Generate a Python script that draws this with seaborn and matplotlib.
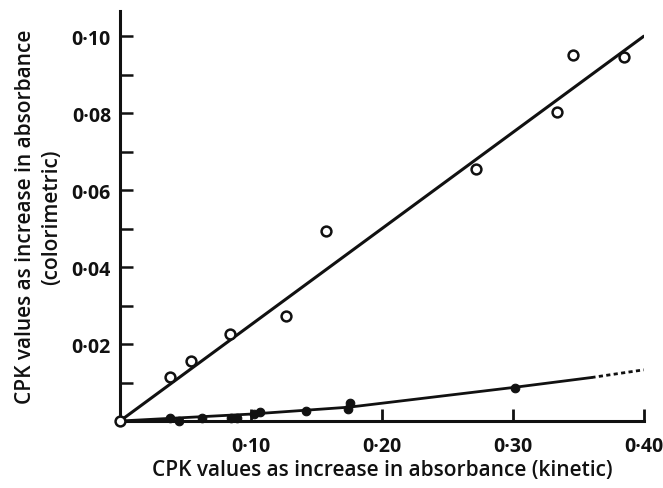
import matplotlib
matplotlib.use("Agg")
import matplotlib.pyplot as plt
import seaborn as sns
from matplotlib.ticker import FixedLocator, MultipleLocator

# Open circles: colorimetric vs kinetic
open_x = [0.0, 0.038, 0.054, 0.084, 0.127, 0.157, 0.272, 0.334, 0.346, 0.385]
open_y = [0.0, 0.0114, 0.0156, 0.0226, 0.0273, 0.0494, 0.0655, 0.0803, 0.0951, 0.0945]

# Filled circles
filled_x = [0.038, 0.045, 0.063, 0.085, 0.089, 0.102, 0.107, 0.142, 0.174, 0.176, 0.302]
filled_y = [0.0007, 0.0001, 0.0008, 0.0007, 0.0007, 0.0017, 0.0023, 0.0027, 0.0032, 0.0047, 0.0087]

# Drawn lines
open_line_x = [0.0, 0.40]
open_line_y = [0.0, 0.100]
filled_line_x = [0.0, 0.10, 0.175, 0.30, 0.36]
filled_line_y = [0.0, 0.0018, 0.0036, 0.0087, 0.0113]
filled_ext_x = [0.36, 0.40]
filled_ext_y = [0.0113, 0.0133]

x_ticks = [0.10, 0.20, 0.30, 0.40]
x_tick_labels = ["0·10", "0·20", "0·30", "0·40"]
y_ticks = [0.02, 0.04, 0.06, 0.08, 0.10]
y_tick_labels = ["0·02", "0·04", "0·06", "0·08", "0·10"]

sns.set_style("ticks")
plt.rcParams["font.family"] = ["Open Sans", "DejaVu Sans"]

fig = plt.figure(figsize=(6.63, 4.89), dpi=100)
ax = fig.add_axes([0.181, 0.137, 0.790, 0.838])

ink = "#111111"
sns.lineplot(x=open_line_x, y=open_line_y, ax=ax, color=ink, lw=2.2, sort=False)
sns.lineplot(x=filled_line_x, y=filled_line_y, ax=ax, color=ink, lw=2.0, sort=False)
sns.lineplot(x=filled_ext_x, y=filled_ext_y, ax=ax, color=ink, lw=2.0,
             linestyle=(0, (1.5, 1.2)), sort=False)

sns.scatterplot(x=open_x, y=open_y, ax=ax, marker="o", s=50,
                facecolor="white", edgecolor=ink, linewidth=1.8, zorder=5, clip_on=False)
sns.scatterplot(x=filled_x, y=filled_y, ax=ax, marker="o", s=38,
                color=ink, edgecolor=ink, linewidth=0.8, zorder=6, clip_on=False)

ax.set_xlim(0, 0.40)
ax.set_ylim(0, 0.1065)

for side in ("top", "right"):
    ax.spines[side].set_visible(False)
for side in ("left", "bottom"):
    ax.spines[side].set_linewidth(2.2)
    ax.spines[side].set_color(ink)

ax.xaxis.set_major_locator(FixedLocator(x_ticks))
ax.set_xticklabels(x_tick_labels)
ax.yaxis.set_major_locator(FixedLocator(y_ticks))
ax.set_yticklabels(y_tick_labels)
ax.yaxis.set_minor_locator(MultipleLocator(0.01))

ax.tick_params(axis="x", which="major", direction="in", length=9, width=2.0,
               bottom=True, color=ink, pad=11, labelsize=14, labelcolor=ink)
ax.tick_params(axis="y", which="both", direction="in", length=9, width=1.8,
               left=True, color=ink, pad=6.5, labelsize=14, labelcolor=ink)
for lab in ax.get_xticklabels() + ax.get_yticklabels():
    lab.set_fontweight("bold")

ax.set_xlabel("CPK values as increase in absorbance (kinetic)", fontsize=15,
              fontweight="semibold", color=ink, labelpad=2)
ax.set_ylabel("CPK values as increase in absorbance\n(colorimetric)", fontsize=15,
              fontweight="semibold", color=ink, labelpad=7, linespacing=1.3)

fig.savefig("out.png", dpi=100, facecolor="white")
